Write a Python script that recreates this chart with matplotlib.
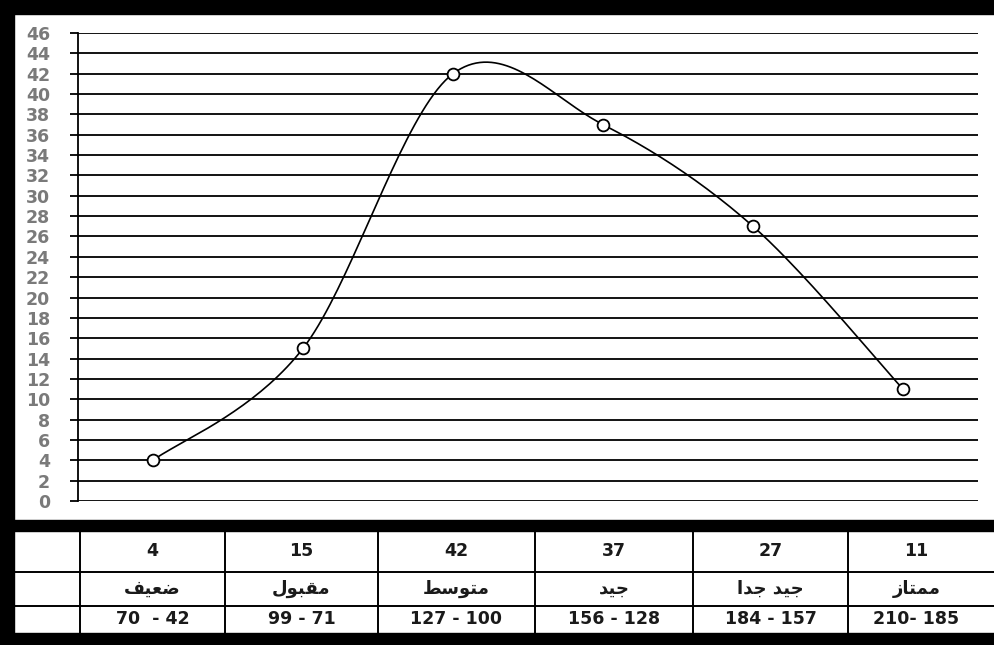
import numpy as np
import matplotlib
matplotlib.use("Agg")
import matplotlib.pyplot as plt

# Data
grades = ["ضعيف", "مقبول", "متوسط", "جيد", "جيد جدا", "ممتاز"]
counts = [4, 15, 42, 37, 27, 11]
ranges = ["70  - 42", "99 - 71", "127 - 100", "156 - 128", "184 - 157", "210- 185"]
y_ticks = list(range(0, 47, 2))

# Arabic contextual forms (isolated, final, initial, medial) for the letters used
FORMS = {
    'ا': ('\uFE8D', '\uFE8E', None, None),
    'ب': ('\uFE8F', '\uFE90', '\uFE91', '\uFE92'),
    'ت': ('\uFE95', '\uFE96', '\uFE97', '\uFE98'),
    'ج': ('\uFE9D', '\uFE9E', '\uFE9F', '\uFEA0'),
    'د': ('\uFEA9', '\uFEAA', None, None),
    'ز': ('\uFEAF', '\uFEB0', None, None),
    'س': ('\uFEB1', '\uFEB2', '\uFEB3', '\uFEB4'),
    'ض': ('\uFEBD', '\uFEBE', '\uFEBF', '\uFEC0'),
    'ط': ('\uFEC1', '\uFEC2', '\uFEC3', '\uFEC4'),
    'ع': ('\uFEC9', '\uFECA', '\uFECB', '\uFECC'),
    'ف': ('\uFED1', '\uFED2', '\uFED3', '\uFED4'),
    'ق': ('\uFED5', '\uFED6', '\uFED7', '\uFED8'),
    'ل': ('\uFEDD', '\uFEDE', '\uFEDF', '\uFEE0'),
    'م': ('\uFEE1', '\uFEE2', '\uFEE3', '\uFEE4'),
    'و': ('\uFEED', '\uFEEE', None, None),
    'ي': ('\uFEF1', '\uFEF2', '\uFEF3', '\uFEF4'),
}


def shape_arabic(text):
    # pick joined forms, then reverse for left-to-right drawing
    out = []
    for i, ch in enumerate(text):
        if ch not in FORMS:
            out.append(ch)
            continue
        prev = text[i - 1] if i > 0 else None
        nxt = text[i + 1] if i + 1 < len(text) else None
        join_prev = prev in FORMS and FORMS[prev][2] is not None
        join_next = FORMS[ch][2] is not None and nxt in FORMS
        iso, fin, ini, med = FORMS[ch]
        if join_prev and join_next:
            out.append(med)
        elif join_prev:
            out.append(fin)
        elif join_next:
            out.append(ini)
        else:
            out.append(iso)
    return "".join(out[::-1])


def smooth_curve(x, y, n=40):
    # Bezier smoothing like a spreadsheet "smoothed line"
    px = np.concatenate([[x[0]], x, [x[-1]]])
    py = np.concatenate([[y[0]], y, [y[-1]]])
    xs, ys = [], []
    t = np.linspace(0, 1, n)
    for i in range(1, len(px) - 2):
        p0, p1, p2, p3 = (np.array([px[j], py[j]]) for j in range(i - 1, i + 3))
        c1 = p1 + (p2 - p0) / 6
        c2 = p2 - (p3 - p1) / 6
        b = ((1 - t) ** 3)[:, None] * p1 + (3 * (1 - t) ** 2 * t)[:, None] * c1 \
            + (3 * (1 - t) * t ** 2)[:, None] * c2 + (t ** 3)[:, None] * p2
        xs.append(b[:, 0])
        ys.append(b[:, 1])
    return np.concatenate(xs), np.concatenate(ys)


W, H = 995, 645
fig = plt.figure(figsize=(W / 100, H / 100), dpi=100)
fig.patch.set_facecolor("white")

# background layer in pixel coordinates: black frame and table grid
bg = fig.add_axes([0, 0, 1, 1])
bg.set_xlim(0, W)
bg.set_ylim(H, 0)
bg.axis("off")
bg.add_patch(plt.Rectangle((0, 0), W, 14, color="black"))
bg.add_patch(plt.Rectangle((0, 0), 14, H, color="black"))
bg.add_patch(plt.Rectangle((0, 520), W, 11, color="black"))
bg.add_patch(plt.Rectangle((0, 633), W, 12, color="black"))

col_edges = [80, 225, 378, 535, 693, 848, W]
row_edges = [531, 572, 606, 633]
for yy in row_edges[1:-1]:
    bg.plot([14, W], [yy, yy], color="black", lw=1.4)
for xx in col_edges[:-1]:
    bg.plot([xx, xx], [row_edges[0], row_edges[-1]], color="black", lw=1.4)

rows = [[str(c) for c in counts], [shape_arabic(g) for g in grades], ranges]
sizes = [12.5, 13, 12.5]
for r, row in enumerate(rows):
    yc = (row_edges[r] + row_edges[r + 1]) / 2
    for k, label in enumerate(row):
        xc = (col_edges[k] + col_edges[k + 1]) / 2
        if k == len(row) - 1:
            xc = (col_edges[k] + 985) / 2
        bg.text(xc, yc, label, ha="center", va="center", fontsize=sizes[r],
                family="DejaVu Sans", fontweight="bold", color="#1a1a1a")

# main chart
ax = fig.add_axes([78 / W, (H - 501) / H, 900 / W, 468 / H])
ax.set_facecolor("none")
x = np.arange(len(counts))
sx, sy = smooth_curve(x, np.array(counts, dtype=float))
ax.plot(sx, sy, color="black", lw=1.2, zorder=3)
ax.plot(x, counts, linestyle="none", marker="o", markersize=8.5,
        markerfacecolor="white", markeredgecolor="black", markeredgewidth=1.3, zorder=4)

ax.set_xlim(-0.5, 5.5)
ax.set_ylim(0, 46)
ax.set_yticks(y_ticks)
ax.set_xticks([])
ax.yaxis.grid(True, color="black", lw=1.3)
ax.set_axisbelow(True)
ax.tick_params(axis="y", length=6, width=1.3, color="black", pad=14,
               labelsize=12.5, labelcolor="#7a7a7a")
for lab in ax.get_yticklabels():
    lab.set_fontweight("bold")
for side in ["top", "right", "bottom"]:
    ax.spines[side].set_visible(False)
ax.spines["left"].set_linewidth(1.3)

fig.savefig("out.png", dpi=100)
